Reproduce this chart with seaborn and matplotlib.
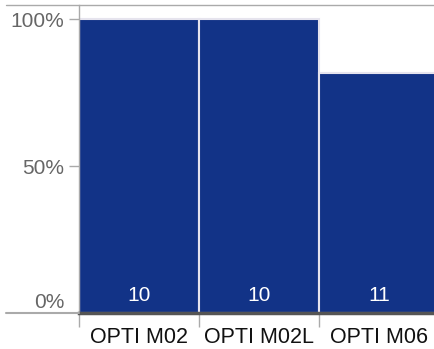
import pandas as pd
import numpy as np
import seaborn as sns
import matplotlib
matplotlib.use('Agg')
import matplotlib.pyplot as plt
from matplotlib.lines import Line2D
from matplotlib.transforms import ScaledTranslation

# chart values
models = ['OPTI M02', 'OPTI M02L', 'OPTI M06']
share = [1.0, 1.0, 0.818]
counts = [10, 10, 11]

sns.set_style('white')
plt.rcParams['font.family'] = ['Liberation Sans', 'DejaVu Sans']

data = pd.DataFrame({'model': models, 'share': share, 'n': counts})

fig = plt.figure(figsize=(4.35, 3.49), dpi=100)
ax = fig.add_axes([79/435, 36/349, 1 - 79/435, (313-5)/349])

sns.barplot(data=data, x='model', y='share', color='#123387', saturation=1,
            width=1.0, edgecolor='#e6e4ee', linewidth=1.5, ax=ax)

ax.set_xlim(-0.5, 2.467)
ax.set_ylim(0, 1.048)
ax.set_xlabel('')
ax.set_ylabel('')

# counts inside bars
for i, n in enumerate(data['n']):
    ax.text(i, 0.058, str(n), color='white', ha='center', va='center', fontsize=15)

ax.set_yticks([0, 0.5, 1.0])
ax.set_yticklabels(['0%', '50%', '100%'])
ax.tick_params(axis='y', length=7.5, width=1, color='#aaaaaa', labelcolor='#666666',
               labelsize=15, pad=3, left=True)
# 0% label sits a bit above the axis line
lab0 = ax.get_yticklabels()[0]
lab0.set_transform(lab0.get_transform() + ScaledTranslation(0, 13/100, fig.dpi_scale_trans))
ax.yaxis.get_major_ticks()[0].tick1line.set_visible(False)

ax.set_xticks([0, 1, 2])
ax.set_xticklabels(models)
ax.tick_params(axis='x', which='major', length=0, labelsize=15.5, labelcolor='#111111', pad=10)
ax.set_xticks([-0.5, 0.5, 1.5], minor=True)
ax.tick_params(axis='x', which='minor', length=10, width=1, color='#aaaaaa', bottom=True)

for s in ['top', 'right']:
    ax.spines[s].set_visible(False)
ax.spines['left'].set_color('#aaaaaa')
ax.spines['left'].set_linewidth(1)
ax.spines['bottom'].set_color('#555555')
ax.spines['bottom'].set_linewidth(2.5)
ax.spines['bottom'].set_zorder(5)

# frame lines that run past the axes to the left
fig.add_artist(Line2D([6/435, 1], [1 - 5/349] * 2, color='#aaaaaa', lw=1))
fig.add_artist(Line2D([6/435, 79/435], [36/349] * 2, color='#aaaaaa', lw=1.5))

fig.savefig('out.png', dpi=100)
